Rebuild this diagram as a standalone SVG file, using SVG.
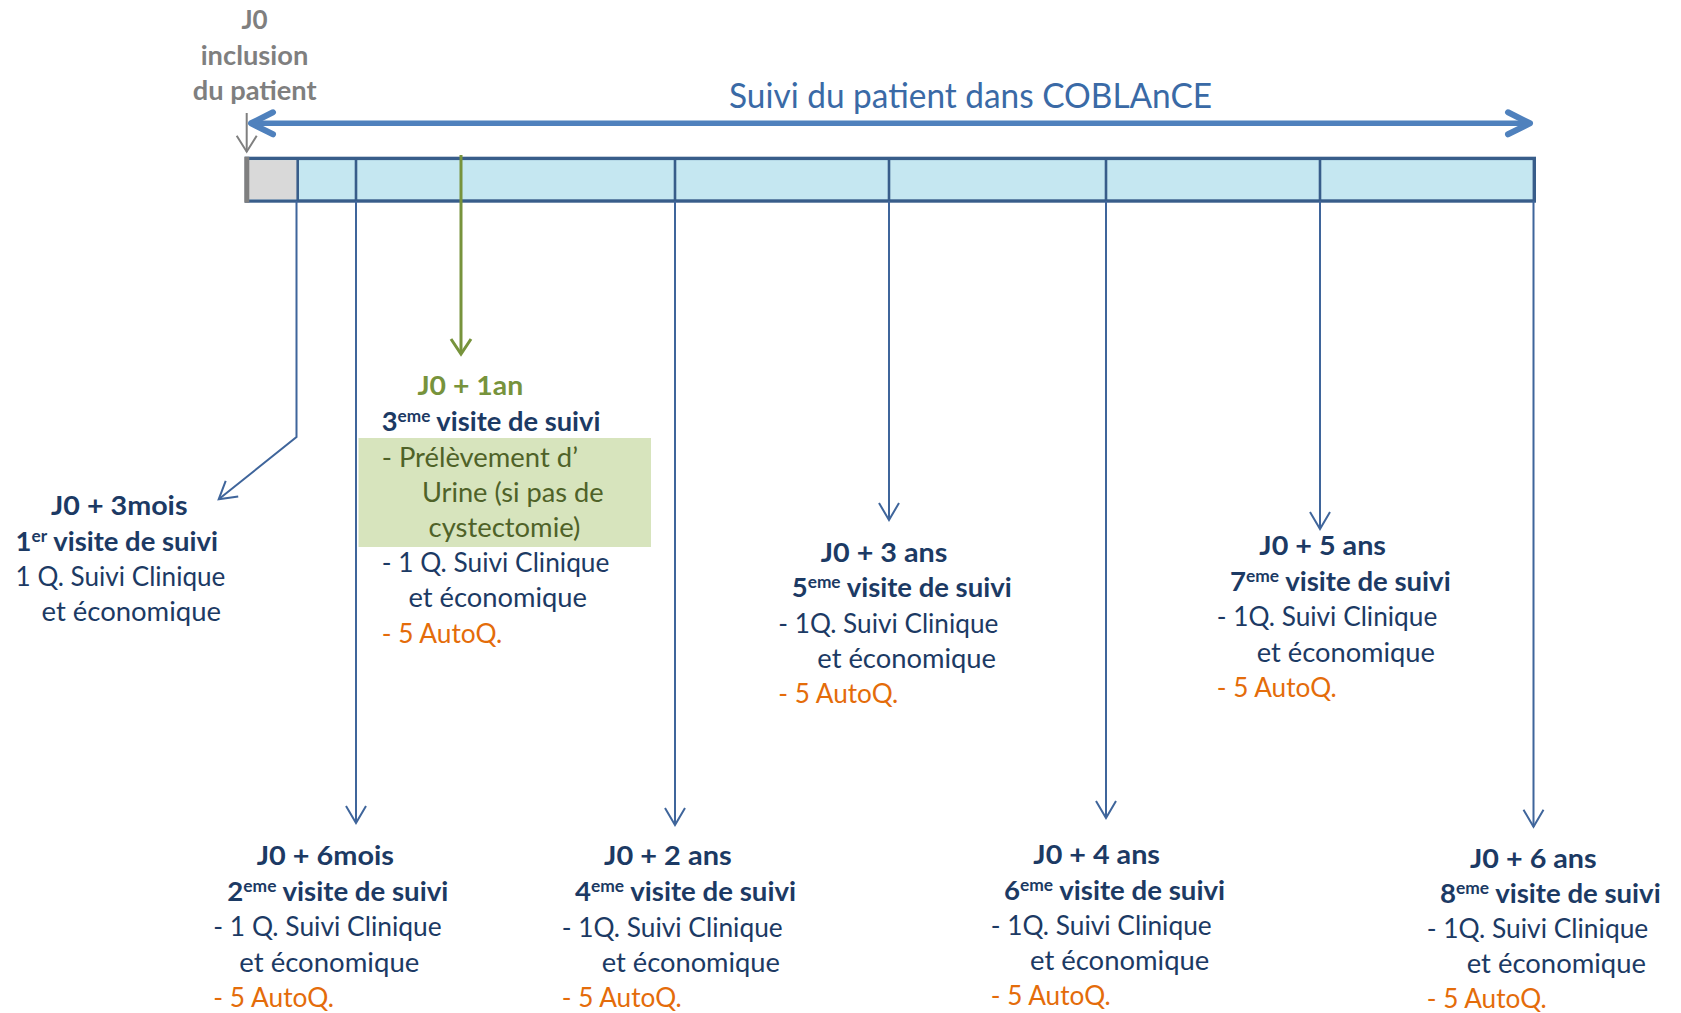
<svg xmlns="http://www.w3.org/2000/svg" width="1681" height="1013" viewBox="0 0 1681 1013">
  <style>
    text { font-family: Lato, "Liberation Sans", sans-serif; font-size: 27px; }
    .b { font-weight: bold; }
    .navy { fill: #1C3A64; }
    .orange { fill: #E46C0A; }
    .green { fill: #77933C; }
    .olive { fill: #4F6228; }
    .gray { fill: #7F7F7F; font-size: 26px; }
    .title { fill: #3A6AA6; font-size: 34px; }
    .sup { font-size: 17px; }
    .conn { fill: none; stroke: #3F659B; stroke-width: 2; }
    .div { stroke: #385D8A; stroke-width: 2.6; }
  </style>
  <defs>
    <marker id="arrThin" markerUnits="userSpaceOnUse" markerWidth="40" markerHeight="40" viewBox="-20 -20 40 40" refX="0" refY="0" orient="auto" overflow="visible">
      <path d="M-17,-10 L0,0 L-17,10" fill="none" stroke="#3F659B" stroke-width="2"/>
    </marker>
    <marker id="arrGreen" markerUnits="userSpaceOnUse" markerWidth="40" markerHeight="40" viewBox="-20 -20 40 40" refX="0" refY="0" orient="auto" overflow="visible">
      <path d="M-15,-10 L0,0 L-15,10" fill="none" stroke="#77933C" stroke-width="3"/>
    </marker>
    <marker id="arrGray" markerUnits="userSpaceOnUse" markerWidth="40" markerHeight="40" viewBox="-20 -20 40 40" refX="0" refY="0" orient="auto" overflow="visible">
      <path d="M-16,-10 L0,0 L-16,10" fill="none" stroke="#7F7F7F" stroke-width="2"/>
    </marker>
    <marker id="arrBig" markerUnits="userSpaceOnUse" markerWidth="60" markerHeight="60" viewBox="-30 -30 60 60" refX="0" refY="0" orient="auto-start-reverse" overflow="visible">
      <path d="M-22,-11 L0,0 L-22,11" fill="none" stroke="#4F81BD" stroke-width="6" stroke-linecap="round" stroke-linejoin="round"/>
    </marker>
  </defs>

  <!-- inclusion label and the follow-up span -->
  <g id="inclusion">
    <text class="b gray" x="254.5" y="29" text-anchor="middle">J0</text>
    <text class="b gray" x="200.7" y="65" textLength="107.6" lengthAdjust="spacingAndGlyphs">inclusion</text>
    <text class="b gray" x="192.7" y="100" textLength="124" lengthAdjust="spacingAndGlyphs">du patient</text>
  </g>
  <g id="suivi">
    <text class="title" x="729" y="108" textLength="483" lengthAdjust="spacingAndGlyphs">Suivi du patient dans COBLAnCE</text>
    <line x1="251" y1="123.3" x2="1530" y2="123.3" stroke="#4F81BD" stroke-width="5.5" marker-start="url(#arrBig)" marker-end="url(#arrBig)"/>
  </g>

  <!-- timeline bar -->
  <g id="timeline">
    <rect x="246.5" y="158.4" width="1287.8" height="42.6" fill="#C5E7F1" stroke="#385D8A" stroke-width="3.4"/>
    <rect x="248" y="160.1" width="49.7" height="39.2" fill="#D9D9D9"/>
    <line x1="246.8" y1="156.7" x2="246.8" y2="202.7" stroke="#7F7F7F" stroke-width="5"/>
    <line class="div" x1="297.7" y1="158" x2="297.7" y2="201"/>
    <line class="div" x1="356" y1="158" x2="356" y2="201"/>
    <line class="div" x1="675" y1="158" x2="675" y2="201"/>
    <line class="div" x1="889" y1="158" x2="889" y2="201"/>
    <line class="div" x1="1106" y1="158" x2="1106" y2="201"/>
    <line class="div" x1="1320" y1="158" x2="1320" y2="201"/>
  </g>

  <!-- connectors from the timeline to each visit -->
  <g id="connectors">
    <path d="M246.7,113 V151.7" fill="none" stroke="#7F7F7F" stroke-width="2" marker-end="url(#arrGray)"/>
    <path class="conn" d="M296.5,201 V437 L218.7,499.3" marker-end="url(#arrThin)"/>
    <path class="conn" d="M356,201 V823" marker-end="url(#arrThin)"/>
    <path d="M461,155 V354" fill="none" stroke="#77933C" stroke-width="3" marker-end="url(#arrGreen)"/>
    <path class="conn" d="M675,201 V825" marker-end="url(#arrThin)"/>
    <path class="conn" d="M889,201 V520" marker-end="url(#arrThin)"/>
    <path class="conn" d="M1106,201 V818" marker-end="url(#arrThin)"/>
    <path class="conn" d="M1320,201 V529" marker-end="url(#arrThin)"/>
    <path class="conn" d="M1533.5,201 V826.7" marker-end="url(#arrThin)"/>
  </g>

  <!-- visit 1 -->
  <g id="visit-3mois">
    <text class="b navy" x="51" y="515" textLength="136.5" lengthAdjust="spacingAndGlyphs">J0 + 3mois</text>
    <text class="b navy" x="15.6" y="550.5" textLength="202.4" lengthAdjust="spacingAndGlyphs">1<tspan class="sup" dy="-9">er</tspan><tspan dy="9"> visite de suivi</tspan></text>
    <text class="navy" x="15.6" y="585.8" textLength="209.8" lengthAdjust="spacingAndGlyphs">1 Q. Suivi Clinique</text>
    <text class="navy" x="41.5" y="621" textLength="179.5" lengthAdjust="spacingAndGlyphs">et économique</text>
  </g>

  <!-- visit 2 -->
  <g id="visit-6mois">
    <text class="b navy" x="256.7" y="865" textLength="137.3" lengthAdjust="spacingAndGlyphs">J0 + 6mois</text>
    <text class="b navy" x="227.3" y="900.7" textLength="221" lengthAdjust="spacingAndGlyphs">2<tspan class="sup" dy="-9">eme</tspan><tspan dy="9"> visite de suivi</tspan></text>
    <text class="navy" x="213.3" y="936.2" textLength="228.4" lengthAdjust="spacingAndGlyphs">- 1 Q. Suivi Clinique</text>
    <text class="navy" x="239.3" y="971.5" textLength="180" lengthAdjust="spacingAndGlyphs">et économique</text>
    <text class="orange" x="213.3" y="1006.8" textLength="120.7" lengthAdjust="spacingAndGlyphs">- 5 AutoQ.</text>
  </g>

  <!-- visit 3 (urine sample) -->
  <g id="visit-1an">
    <text class="b green" x="417.4" y="395" textLength="105.8" lengthAdjust="spacingAndGlyphs">J0 + 1an</text>
    <text class="b navy" x="381.7" y="430.5" textLength="218.7" lengthAdjust="spacingAndGlyphs">3<tspan class="sup" dy="-9">eme</tspan><tspan dy="9"> visite de suivi</tspan></text>
    <rect x="358.5" y="438" width="292.5" height="109" fill="#D7E4BD"/>
    <text class="olive" x="381.7" y="466.5" textLength="196.3" lengthAdjust="spacingAndGlyphs">- Prélèvement d’</text>
    <text class="olive" x="421.9" y="502" textLength="181.7" lengthAdjust="spacingAndGlyphs">Urine (si pas de</text>
    <text class="olive" x="428.6" y="537" textLength="151.8" lengthAdjust="spacingAndGlyphs">cystectomie)</text>
    <text class="navy" x="381.7" y="572" textLength="227.7" lengthAdjust="spacingAndGlyphs">- 1 Q. Suivi Clinique</text>
    <text class="navy" x="408.5" y="607" textLength="178.5" lengthAdjust="spacingAndGlyphs">et économique</text>
    <text class="orange" x="381.7" y="642.5" textLength="120.5" lengthAdjust="spacingAndGlyphs">- 5 AutoQ.</text>
  </g>

  <!-- visit 4 -->
  <g id="visit-2ans">
    <text class="b navy" x="604" y="865" textLength="127.7" lengthAdjust="spacingAndGlyphs">J0 + 2 ans</text>
    <text class="b navy" x="575" y="901" textLength="221" lengthAdjust="spacingAndGlyphs">4<tspan class="sup" dy="-9">eme</tspan><tspan dy="9"> visite de suivi</tspan></text>
    <text class="navy" x="561.7" y="936.5" textLength="221" lengthAdjust="spacingAndGlyphs">- 1Q. Suivi Clinique</text>
    <text class="navy" x="601.7" y="971.7" textLength="178.3" lengthAdjust="spacingAndGlyphs">et économique</text>
    <text class="orange" x="561.7" y="1006.8" textLength="120" lengthAdjust="spacingAndGlyphs">- 5 AutoQ.</text>
  </g>

  <!-- visit 5 -->
  <g id="visit-3ans">
    <text class="b navy" x="820.7" y="561.7" textLength="126.6" lengthAdjust="spacingAndGlyphs">J0 + 3 ans</text>
    <text class="b navy" x="791.7" y="596.7" textLength="220" lengthAdjust="spacingAndGlyphs">5<tspan class="sup" dy="-9">eme</tspan><tspan dy="9"> visite de suivi</tspan></text>
    <text class="navy" x="778.3" y="632.5" textLength="220" lengthAdjust="spacingAndGlyphs">- 1Q. Suivi Clinique</text>
    <text class="navy" x="817.3" y="667.5" textLength="178.7" lengthAdjust="spacingAndGlyphs">et économique</text>
    <text class="orange" x="778.3" y="702.7" textLength="120" lengthAdjust="spacingAndGlyphs">- 5 AutoQ.</text>
  </g>

  <!-- visit 6 -->
  <g id="visit-4ans">
    <text class="b navy" x="1033.3" y="864.3" textLength="126.7" lengthAdjust="spacingAndGlyphs">J0 + 4 ans</text>
    <text class="b navy" x="1004" y="900" textLength="221" lengthAdjust="spacingAndGlyphs">6<tspan class="sup" dy="-9">eme</tspan><tspan dy="9"> visite de suivi</tspan></text>
    <text class="navy" x="990.7" y="935" textLength="221" lengthAdjust="spacingAndGlyphs">- 1Q. Suivi Clinique</text>
    <text class="navy" x="1030" y="970" textLength="179.3" lengthAdjust="spacingAndGlyphs">et économique</text>
    <text class="orange" x="990.7" y="1005" textLength="120" lengthAdjust="spacingAndGlyphs">- 5 AutoQ.</text>
  </g>

  <!-- visit 7 -->
  <g id="visit-5ans">
    <text class="b navy" x="1259.3" y="555" textLength="126.7" lengthAdjust="spacingAndGlyphs">J0 + 5 ans</text>
    <text class="b navy" x="1230" y="591" textLength="220.7" lengthAdjust="spacingAndGlyphs">7<tspan class="sup" dy="-9">eme</tspan><tspan dy="9"> visite de suivi</tspan></text>
    <text class="navy" x="1216.7" y="626" textLength="220.6" lengthAdjust="spacingAndGlyphs">- 1Q. Suivi Clinique</text>
    <text class="navy" x="1256.7" y="661.5" textLength="178.3" lengthAdjust="spacingAndGlyphs">et économique</text>
    <text class="orange" x="1216.7" y="696.7" textLength="120" lengthAdjust="spacingAndGlyphs">- 5 AutoQ.</text>
  </g>

  <!-- visit 8 -->
  <g id="visit-6ans">
    <text class="b navy" x="1470" y="867.7" textLength="126.7" lengthAdjust="spacingAndGlyphs">J0 + 6 ans</text>
    <text class="b navy" x="1440" y="902.7" textLength="220.7" lengthAdjust="spacingAndGlyphs">8<tspan class="sup" dy="-9">eme</tspan><tspan dy="9"> visite de suivi</tspan></text>
    <text class="navy" x="1426.7" y="938.3" textLength="221.6" lengthAdjust="spacingAndGlyphs">- 1Q. Suivi Clinique</text>
    <text class="navy" x="1466.7" y="973.3" textLength="179.3" lengthAdjust="spacingAndGlyphs">et économique</text>
    <text class="orange" x="1426.7" y="1008.3" textLength="120" lengthAdjust="spacingAndGlyphs">- 5 AutoQ.</text>
  </g>
</svg>
